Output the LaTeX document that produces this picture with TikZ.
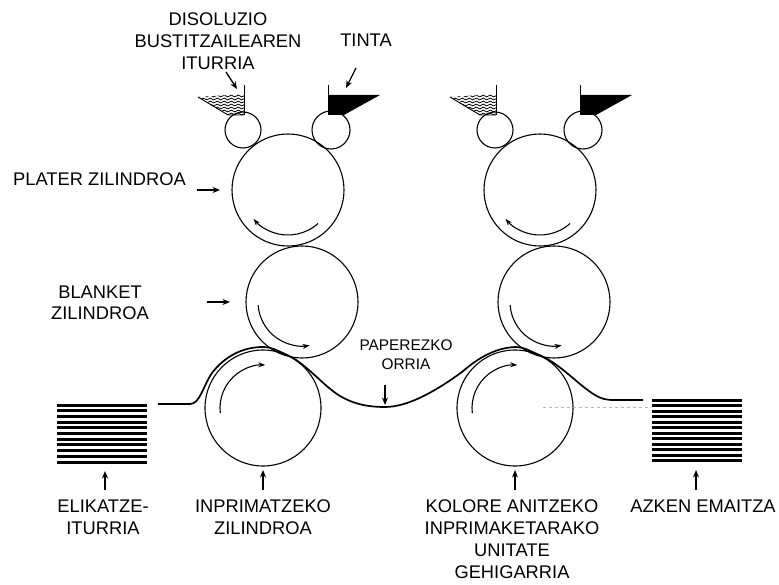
\documentclass[tikz,border=0pt]{standalone}
\usepackage{fontspec}
\setmainfont{Liberation Sans}
\usetikzlibrary{arrows.meta,decorations.pathmorphing}
\begin{document}
\begin{tikzpicture}[x=1pt,y=-1pt,
  roller/.style={circle,draw,line width=1.1pt,inner sep=0pt},
  lbl/.style={font=\fontsize{18.3}{22}\selectfont,inner sep=0pt,align=center,anchor=north},
  small lbl/.style={font=\fontsize{15.4}{19}\selectfont,inner sep=0pt,align=center,anchor=north},
  pointer/.style={-{Stealth[length=7.5pt,width=6pt]},line width=1.3pt},
  rotarrow/.style={-{Stealth[length=7pt,width=5pt]},line width=1.1pt},
  sheet/.style={line width=1.7pt},
  stackline/.style={line width=3pt},
  water/.style={decorate,decoration={snake,segment length=7pt,amplitude=0.9pt},line width=0.8pt}]
\useasboundingbox (0,0) rectangle (779,585);

% two identical printing units, the second shifted to the right
\foreach \u/\dx in {1/0,2/252}{
 \begin{scope}[xshift=\dx pt]
  \node[roller,minimum size=36pt] (D\u) at (243,130) {};
  \node[roller,minimum size=38pt] (K\u) at (331,130) {};
  \node[roller,minimum size=112pt] (P\u) at (288,190) {};
  \node[roller,minimum size=112pt] (B\u) at (302,302) {};
  \node[roller,minimum size=116pt] (C\u) at (263,408) {};
  % ink fountain
  \fill (328,95) -- (380,95) -- (344,115) -- (328,115) -- cycle;
  \draw[line width=1pt] (328,85) -- (328,115);
  % dampening fountain
  \begin{scope}
    \clip (244,94) -- (198,97) -- (228,115) -- (244,115) -- cycle;
    \foreach \yy in {96,99,...,114} \draw[water] (194,\yy) -- (248,\yy);
  \end{scope}
  \draw[line width=1pt] (244,85) -- (244,115);
  \draw[line width=0.9pt] (198,97) -- (228,115) -- (244,115);
  % direction of rotation
  \draw[rotarrow] ([shift={(48:45)}]P\u.center) arc[start angle=48,end angle=140,radius=45];
  \draw[rotarrow] ([shift={(176:44)}]B\u.center) arc[start angle=176,end angle=80,radius=44];
  \draw[rotarrow] ([shift={(173:43)}]C\u.center) arc[start angle=173,end angle=273,radius=43];
  % pointer to the impression cylinder
  \coordinate (iA\u) at (263,490);
  \coordinate (iB\u) at (263,470);
  \draw[pointer] (iA\u) -- (iB\u);
 \end{scope}
}

% paper web
\draw[sheet] (158,404) -- (190,404)
  .. controls (200,404) and (203,386) .. (212,373)
  .. controls (225,356) and (243,347) .. (263,347)
  .. controls (272,347) and (278,351) .. (285,354)
  .. controls (305,362) and (322,385) .. (340,396)
  .. controls (352,403) and (365,407) .. (385,407)
  .. controls (410,407) and (440,388) .. (462,372)
  .. controls (478,358) and (495,348) .. (515,347)
  .. controls (524,347) and (530,351) .. (537,354)
  .. controls (560,363) and (578,385) .. (595,395)
  .. controls (602,399) and (606,400) .. (614,400) -- (643,400);
\draw[gray!55,dashed,line width=1pt] (543,407) -- (652,407);

% sheet stacks
\foreach \k in {0,...,10} \draw[stackline] (57,{405+5.7*\k}) -- (147,{405+5.7*\k});
\foreach \k in {0,...,11} \draw[stackline] (652,{400+5.5*\k}) -- (742,{400+5.5*\k});

% labels
\node[lbl] (tDis) at (218,13) {DISOLUZIO\\BUSTITZAILEAREN\\ITURRIA};
\node[lbl] (tInk) at (366,34) {TINTA};
\node[lbl,anchor=north west] (tPlate) at (13,173) {PLATER ZILINDROA};
\node[lbl,font=\fontsize{18.3}{21}\selectfont] (tBlanket) at (100,286) {BLANKET\\ZILINDROA};
\node[small lbl] (tPaper) at (406,340) {PAPEREZKO\\ORRIA};
\node[lbl] (tFeed) at (103,500) {ELIKATZE-\\ITURRIA};
\node[lbl] (tImp) at (263,500) {INPRIMATZEKO\\ZILINDROA};
\node[lbl,font=\fontsize{18.3}{21.7}\selectfont] (tUnit) at (512,500) {KOLORE ANITZEKO\\INPRIMAKETARAKO\\UNITATE\\GEHIGARRIA};
\node[lbl] (tOut) at (703,500) {AZKEN EMAITZA};

% label pointers
\coordinate (dA) at (226,72);  \coordinate (dB) at (237,89);
\coordinate (kA) at (356,68);  \coordinate (kB) at (346,88);
\coordinate (pA) at (197,190); \coordinate (pB) at (220,190);
\coordinate (bA) at (207,302); \coordinate (bB) at (230,302);
\coordinate (wA) at (385,385); \coordinate (wB) at (385,405);
\coordinate (fA) at (105,490); \coordinate (fB) at (105,471);
\coordinate (oA) at (696,490); \coordinate (oB) at (696,470);
\draw[pointer] (dA) -- (dB);
\draw[pointer] (kA) -- (kB);
\draw[pointer] (pA) -- (pB);
\draw[pointer] (bA) -- (bB);
\draw[pointer] (wA) -- (wB);
\draw[pointer] (fA) -- (fB);
\draw[pointer] (oA) -- (oB);
\end{tikzpicture}
\end{document}
